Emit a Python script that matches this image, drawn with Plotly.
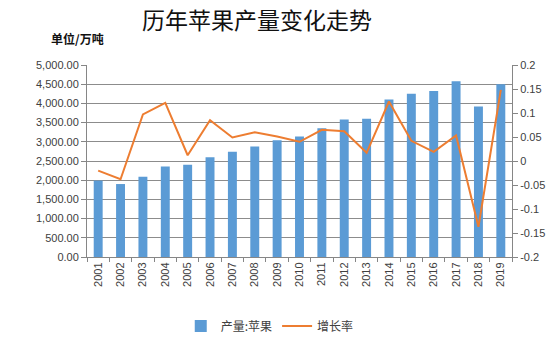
import plotly.graph_objects as go

years = [str(y) for y in range(2001, 2020)]
production = [1990, 1900, 2090, 2360, 2400, 2600, 2740, 2880, 3040, 3140,
              3350, 3580, 3600, 4100, 4250, 4320, 4580, 3920, 4500]
growth = [-0.020, -0.038, 0.097, 0.121, 0.012, 0.085, 0.049, 0.060, 0.051, 0.040,
          0.065, 0.062, 0.017, 0.124, 0.042, 0.019, 0.053, -0.137, 0.148]

left_ticks = [i * 500 for i in range(11)]
right_ticks = [-0.2, -0.15, -0.1, -0.05, 0, 0.05, 0.1, 0.15, 0.2]
right_labels = ["-0.2", "-0.15", "-0.1", "-0.05", "0", "0.05", "0.1", "0.15", "0.2"]

fig = go.Figure()
fig.add_trace(go.Bar(x=years, y=production, name="产量:苹果",
                     marker=dict(color="#5B9BD5", line=dict(width=0)),
                     width=0.4, yaxis="y"))
fig.add_trace(go.Scatter(x=years, y=growth, name="增长率", mode="lines",
                         line=dict(color="#ED7D31", width=2), yaxis="y2"))

font_tick = dict(family="Liberation Sans, Arial, sans-serif", size=11, color="#404040")

fig.update_layout(
    width=550, height=340,
    margin=dict(l=87, r=38, t=65, b=83, autoexpand=False),
    paper_bgcolor="white", plot_bgcolor="white",
    showlegend=True,
    legend=dict(orientation="h", x=0.43, y=-0.36, xanchor="center", yanchor="middle",
                font=dict(family="Noto Sans CJK SC", size=12, color="#404040"),
                itemwidth=30, traceorder="normal"),
    title=dict(text="历年苹果产量变化走势", x=257/550, xanchor="center", xref="container",
               y=1 - 21/340, yanchor="middle", yref="container",
               font=dict(family="Noto Sans CJK SC", size=23, color="#111111")),
    xaxis=dict(type="category", showgrid=False, showline=True, linecolor="#868686",
               ticks="outside", ticklen=4, tickcolor="#868686", tickson="boundaries",
               tickangle=-90, tickfont=font_tick, automargin=False),
    yaxis=dict(range=[0, 5000], tickvals=left_ticks, tickformat=",.2f",
               showgrid=True, gridcolor="#8c8c8c", gridwidth=1,
               showline=True, linecolor="#868686", ticks="outside", ticklen=5,
               tickcolor="#868686", tickfont=font_tick, zeroline=False, automargin=False),
    yaxis2=dict(range=[-0.2, 0.2], tickvals=right_ticks, ticktext=right_labels,
                overlaying="y", side="right", showgrid=False, showline=True,
                linecolor="#868686", ticks="outside", ticklen=5, tickcolor="#868686",
                tickfont=font_tick, zeroline=False, automargin=False),
    bargap=0.6,
)

fig.add_annotation(text="<b>单位/万吨</b>", xref="paper", yref="paper", x=-0.09, y=1.14,
                   xanchor="left", yanchor="middle", showarrow=False,
                   font=dict(family="Noto Sans CJK SC", size=12, color="#111111"))

fig.write_html("out.html")
